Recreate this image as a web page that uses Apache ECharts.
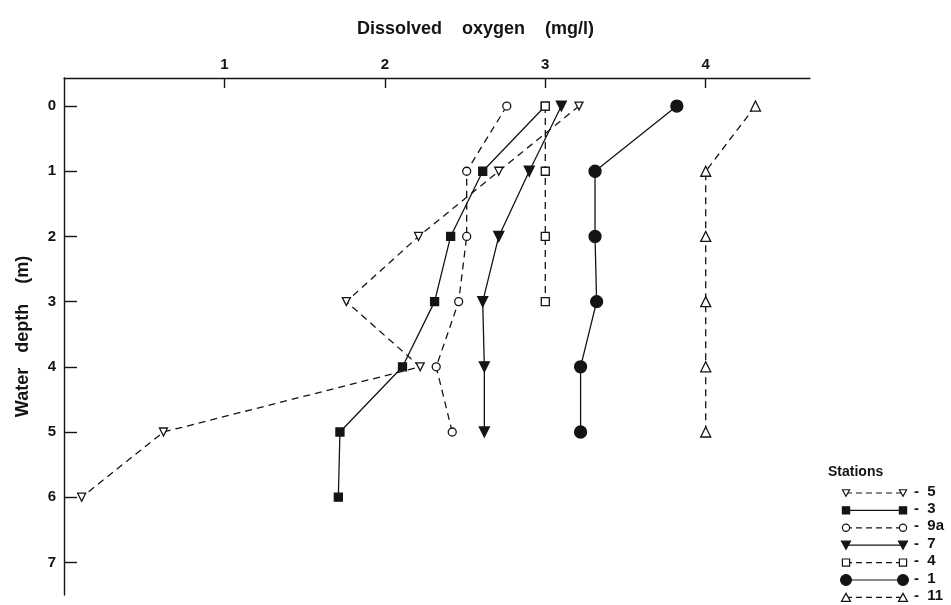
<!DOCTYPE html>
<html>
<head>
<meta charset="utf-8">
<script src="https://cdn.jsdelivr.net/npm/echarts@6/dist/echarts.min.js"></script>
<style>
html,body{margin:0;padding:0;background:#fff;}
#chart{width:951px;height:605px;}
</style>
</head>
<body>
<div id="chart"></div>
<script>
// ---- data ----
const depths = [0, 1, 2, 3, 4, 5, 6];
const stationNames = ['5', '3', '9a', '7', '4', '1', '11'];
const station5 = [3.21, 2.71, 2.21, 1.76, 2.22, 0.62, 0.11];
const station3 = [3.00, 2.61, 2.41, 2.31, 2.11, 1.72, 1.71];
const station9a = [2.76, 2.51, 2.51, 2.46, 2.32, 2.42];
const station7 = [3.10, 2.90, 2.71, 2.61, 2.62, 2.62];
const station4 = [3.00, 3.00, 3.00, 3.00];
const station1 = [3.82, 3.31, 3.31, 3.32, 3.22, 3.22];
const station11 = [4.31, 4.00, 4.00, 4.00, 4.00, 4.00];
const xTicks = [1, 2, 3, 4];
const yTicks = [0, 1, 2, 3, 4, 5, 6, 7];

const stationValues = [station5, station3, station9a, station7, station4, station1, station11];

// ---- styles ----
const INK = '#141414';
const FONT = 'Liberation Sans';
const styles = [
  {symbol: 'triangle', rotate: 180, size: 8, filled: false, dashed: true},
  {symbol: 'rect', rotate: 0, size: 8, filled: true, dashed: false},
  {symbol: 'circle', rotate: 0, size: 8, filled: false, dashed: true},
  {symbol: 'triangle', rotate: 180, size: 10, filled: true, dashed: false},
  {symbol: 'rect', rotate: 0, size: 8, filled: false, dashed: true},
  {symbol: 'circle', rotate: 0, size: 12, filled: true, dashed: false},
  {symbol: 'triangle', rotate: 0, size: 10, filled: false, dashed: true}
];

const series = stationNames.map((name, i) => {
  const st = styles[i];
  return {
    name: 'Station ' + name,
    type: 'line',
    data: stationValues[i].map((v, k) => [v, depths[k]]),
    symbol: st.symbol,
    symbolRotate: st.rotate,
    symbolSize: st.size,
    showAllSymbol: true,
    animation: false,
    z: 3 + i,
    lineStyle: {color: INK, width: 1.3, type: st.dashed ? [7, 5] : 'solid'},
    itemStyle: {color: st.filled ? INK : '#fff', borderColor: INK, borderWidth: 1.3}
  };
});

// legend drawn with graphic elements
const legendGraphics = [];
legendGraphics.push({type: 'text', left: 828, top: 465,
  style: {text: 'Stations', font: 'bold 14px ' + FONT, fill: INK}});
const lx1 = 846, lx2 = 903, ly0 = 493, ldy = 17.4;
function symbolGraphic(st, cx, cy) {
  const s = st.size * 0.9;
  const style = {fill: st.filled ? INK : '#fff', stroke: INK, lineWidth: 1.2};
  if (st.symbol === 'circle') {
    return {type: 'circle', shape: {cx: cx, cy: cy, r: s / 2}, style: style, z: 10};
  }
  if (st.symbol === 'rect') {
    return {type: 'rect', shape: {x: cx - s / 2, y: cy - s / 2, width: s, height: s}, style: style, z: 10};
  }
  const h = s * 0.9;
  const pts = st.rotate === 180
    ? [[cx - s / 2, cy - h / 2], [cx + s / 2, cy - h / 2], [cx, cy + h / 2]]
    : [[cx - s / 2, cy + h / 2], [cx + s / 2, cy + h / 2], [cx, cy - h / 2]];
  return {type: 'polygon', shape: {points: pts}, style: style, z: 10};
}
stationNames.forEach((name, i) => {
  const st = styles[i];
  const y = ly0 + i * ldy;
  legendGraphics.push({type: 'line', shape: {x1: lx1, y1: y, x2: lx2, y2: y},
    style: {stroke: INK, lineWidth: 1.2, lineDash: st.dashed ? [6, 4] : null}, z: 9});
  legendGraphics.push(symbolGraphic(st, lx1, y));
  legendGraphics.push(symbolGraphic(st, lx2, y));
  legendGraphics.push({type: 'text', left: 914, top: y - 9,
    style: {text: '-  ' + name, font: 'bold 15px ' + FONT, fill: INK}});
});

const chart = echarts.init(document.getElementById('chart'), null, {renderer: 'canvas'});
chart.setOption({
  backgroundColor: '#fff',
  animation: false,
  title: {
    text: 'Dissolved    oxygen    (mg/l)',
    left: 352, top: 15,
    textStyle: {fontFamily: FONT, fontSize: 18, fontWeight: 'bold', color: INK}
  },
  grid: {left: 64, top: 78, width: 746, height: 517, containLabel: false},
  xAxis: {
    type: 'value', position: 'top', min: 0, max: 4.65,
    axisLine: {show: true, onZero: false, lineStyle: {color: INK, width: 1.4}},
    axisTick: {show: true, inside: true, length: 10, customValues: xTicks, lineStyle: {color: INK, width: 1.4}},
    axisLabel: {show: true, customValues: xTicks, margin: 6, fontFamily: FONT, fontSize: 15, fontWeight: 'bold', color: INK},
    splitLine: {show: false}
  },
  yAxis: {
    type: 'value', inverse: true, min: -0.43, max: 7.5,
    name: 'Water   depth    (m)', nameLocation: 'middle', nameGap: 32, nameRotate: 90,
    nameTextStyle: {fontFamily: FONT, fontSize: 18, fontWeight: 'bold', color: INK},
    axisLine: {show: true, onZero: false, lineStyle: {color: INK, width: 1.4}},
    axisTick: {show: true, inside: true, length: 13, customValues: yTicks, lineStyle: {color: INK, width: 1.4}},
    axisLabel: {show: true, customValues: yTicks, margin: 8, fontFamily: FONT, fontSize: 15, fontWeight: 'bold', color: INK},
    splitLine: {show: false}
  },
  series: series,
  graphic: legendGraphics
});
</script>
</body>
</html>
